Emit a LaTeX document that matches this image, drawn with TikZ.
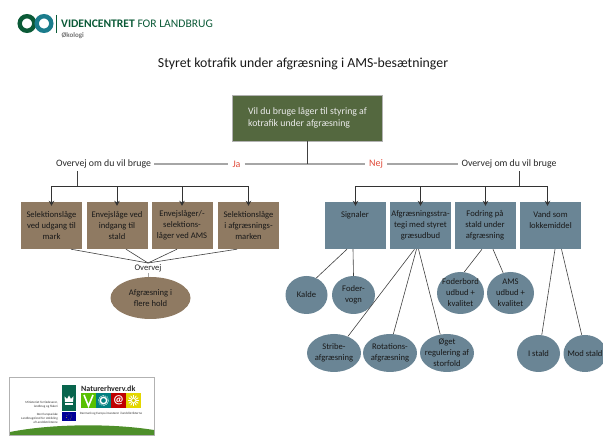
\documentclass[tikz,border=0pt]{standalone}
\usepackage{fontspec}
\setmainfont{Carlito}
\usetikzlibrary{shapes.geometric,arrows.meta}
\definecolor{topgreen}{HTML}{54683F}
\definecolor{brownbox}{HTML}{8F7A62}
\definecolor{bluebox}{HTML}{6A8595}
\definecolor{logogreen}{HTML}{0B5A37}
\definecolor{logoteal}{HTML}{1B7C8C}
\definecolor{redtext}{HTML}{E04B3A}
\definecolor{hillgreen}{HTML}{4E8F2A}
\tikzset{
  choice/.style={rectangle,minimum width=61,minimum height=47,inner sep=0,align=center,font=\fontsize{8.6}{11}\selectfont,text=black!90},
  brown/.style={choice,fill=brownbox},
  blue/.style={choice,fill=bluebox},
  oval/.style={ellipse,inner sep=-8pt,align=center,fill=bluebox,font=\fontsize{8.6}{11}\selectfont,text=black!90},
  label/.style={font=\fontsize{9.8}{11}\selectfont,text=black!85,inner sep=3},
  answer/.style={font=\fontsize{10}{11}\selectfont,text=redtext,inner sep=4},
  barline/.style={draw=black!35,line width=1.2},
  thinline/.style={draw=black!75,line width=.6},
  arrowline/.style={draw=black!80,line width=.8,-{Stealth[length=5pt,width=5.5pt]}},
  tiny/.style={inner sep=0,font=\fontsize{3.2}{4}\selectfont,text=black!80}
}
\begin{document}
\begin{tikzpicture}[x=1pt,y=-1pt]
\useasboundingbox (0,0) rectangle (603,438);
% logo top
\draw[logogreen,line width=4.4] (27,23.5) circle (7.3);
\draw[logoteal,line width=4.4] (44,23.5) circle (7.3);
\draw[logogreen,line width=.5] (56.5,15) -- (56.5,33);
\node[anchor=west,inner sep=0,text=logogreen,font=\fontsize{11.6}{13}\selectfont] (brand) at (61,24) {\textbf{VIDENCENTRET} FOR LANDBRUG};
\node[anchor=west,inner sep=0,text=black!55,font=\fontsize{7}{8}\selectfont\bfseries] (okologi) at (61.5,36) {Økologi};
\node[font=\fontsize{13.8}{15}\selectfont,text=black!90,inner sep=0] (title) at (303,64) {Styret kotrafik under afgræsning i AMS-besætninger};
% question
\node[rectangle,fill=topgreen,draw=black!30,line width=.4,minimum width=150,minimum height=46,inner sep=0,align=left,text=white!92!black,font=\fontsize{9.8}{12.5}\selectfont] (question) at (307.5,118) {Vil du bruge låger til styring af\\kotrafik under afgræsning};
\node[label] (overvejja) at (103.5,164) {Overvej om du vil bruge};
\node[answer] (ja) at (236.5,164) {Ja};
\node[answer] (nej) at (376,164) {Nej};
\node[label] (overvejnej) at (509,164) {Overvej om du vil bruge};
\coordinate (split) at (307.5,164);
\draw[barline] (overvejja) -- (ja);
\draw[barline] (ja) -- (nej);
\draw[barline] (nej) -- (overvejnej);
\draw[thinline] (question) -- (split);
% left side
\node[brown] (udgang) at (51.5,225.5) {Selektionslåge\\ved udgang til\\mark};
\node[brown] (indgang) at (117,225.5) {Envejslåge ved\\indgang til\\stald};
\node[brown] (ams) at (182,225.5) {Envejslåger/-\\selektions-\\låger ved AMS};
\node[brown] (marken) at (248.5,225.5) {Selektionslåge\\i afgræsnings-\\marken};
\coordinate (forkja) at (77.5,186);
\draw[thinline,line width=.8] (overvejja.south -| forkja) -- (forkja);
\foreach \boxname in {udgang,indgang,ams,marken}
  \draw[arrowline] (forkja) -| ([yshift=-4]\boxname.north);
\coordinate (meet) at (148,263);
\node[font=\fontsize{8.6}{10}\selectfont,text=black!85,inner sep=1] (overvej) at (148,268.5) {Overvej};
\node[ellipse,inner sep=-8pt,align=center,fill=brownbox,minimum width=80,minimum height=42,font=\fontsize{8.6}{11}\selectfont,text=black!90] (hold) at (150.5,298) {Afgræsning i\\flere hold};
\draw[thinline] ([xshift=19.5]udgang.south) -- (meet);
\draw[thinline] ([xshift=9]indgang.south) -- (meet);
\draw[thinline] ([xshift=-5]ams.south) -- (meet);
\draw[thinline] ([xshift=-11.5]marken.south) -- (meet);
\draw[barline,line width=.8] (overvej) -- (hold.north -| overvej);
% right side
\node[blue] (signaler) at (355,225.5) {Signaler\\~\\~};
\node[blue] (strategi) at (420.5,225.5) {Afgræsningsstra-\\tegi med styret\\græsudbud};
\node[blue] (fodring) at (485,225.5) {Fodring på\\stald under\\afgræsning};
\node[blue] (vand) at (550.5,225.5) {Vand som\\lokkemiddel\\~};
\coordinate (forknej) at (519,186);
\draw[thinline,line width=.8] (overvejnej.south -| forknej) -- (forknej);
\foreach \boxname/\shift in {signaler/.5,strategi/0,fodring/.5,vand/-3}
  \draw[arrowline] (forknej) -| ([xshift=\shift,yshift=-4]\boxname.north);
\node[oval,minimum width=42,minimum height=38] (kalde) at (306.5,295) {Kalde};
\node[oval,minimum width=43,minimum height=38] (vogn) at (353.5,295) {Foder-\\vogn};
\node[oval,minimum width=47,minimum height=42] (foderbord) at (460.5,293) {Foderbord\\udbud +\\kvalitet};
\node[oval,minimum width=47,minimum height=42] (kvalitet) at (510.5,293) {AMS\\udbud +\\kvalitet};
\node[oval,minimum width=54,minimum height=38] (stribe) at (334,353) {Stribe-\\afgræsning};
\node[oval,minimum width=54,minimum height=38] (rotation) at (390,353) {Rotations-\\afgræsning};
\node[oval,minimum width=54,minimum height=38] (oget) at (447,353) {Øget\\regulering af\\storfold};
\node[oval,minimum width=43,minimum height=37] (istald) at (538.5,353.5) {I stald};
\node[oval,minimum width=43,minimum height=37] (modstald) at (585,353.5) {Mod stald};
\draw[thinline] ([xshift=-8]signaler.south) -- (kalde.60);
\draw[thinline] ([xshift=-2]signaler.south) -- (vogn.north);
\draw[thinline] ([xshift=-6]strategi.south) -- (stribe.50);
\draw[thinline] ([xshift=-4]strategi.south) -- (rotation.80);
\draw[thinline] ([xshift=-2]strategi.south) -- (oget.110);
\draw[thinline] ([xshift=-3]fodring.south) -- (foderbord.80);
\draw[thinline] ([xshift=8]fodring.south) -- (kvalitet.110);
\draw[thinline] ([xshift=4.5]vand.south) -- (istald.80);
\draw[thinline] ([xshift=11]vand.south) -- (modstald.100);
% logo bottom
\draw[black!30,line width=.8] (9.5,377.5) rectangle (154,435);
\fill[hillgreen] (10,432) .. controls (50,424) and (110,423) .. (154,430) -- (154,435) -- (10,435) -- cycle;
\fill[logogreen!70!teal] (62,385) rectangle (76,411);
\fill[white] (65,402) -- (64.5,396.5) -- (67,399) -- (69,395.5) -- (71,399) -- (73.5,396.5) -- (73,402) -- cycle;
\fill[white] (65,403) rectangle (73,405);
\fill[blue!60!black] (62,412.5) rectangle (76,421);
\draw[yellow,line width=.5,dotted] (69,416.8) circle (2.8);
\node[anchor=west,inner sep=0,font=\fontsize{8}{9}\selectfont\bfseries,text=black!85] (naturerhverv) at (81,389) {Naturerhverv.dk};
\fill[green!45!olive!90!yellow] (81,393) rectangle (96,408);
\draw[white,line width=1.6] (84,395) -- (88.5,406) -- (93,395);
\fill[teal] (96,393) rectangle (111,408);
\draw[white,line width=1.4] (103.5,400.5) circle (3.2);
\draw[white,line width=.9,dash pattern=on 1pt off 1.2pt] (103.5,400.5) circle (5);
\fill[red!75!black] (111,393) rectangle (126,408);
\node[inner sep=0,text=white,font=\fontsize{12}{12}\selectfont\bfseries] (snabela) at (118.5,400) {@};
\fill[yellow!75!olive] (126,393) rectangle (141,408);
\foreach \ang in {0,30,...,330}
  \draw[white,line width=.8] (133.5,400.5) -- +(\ang:5.5);
\fill[yellow!60!olive] (133.5,400.5) circle (1.8);
\node[tiny] (invest) at (111,414) {Danmark og Europa investerer i landdistrikterne};
\node[tiny,anchor=east,align=right] (ministeriet) at (58,405) {Ministeriet for fødevarer,\\landbrug og fiskeri};
\node[tiny,anchor=east,align=right] (fond) at (58,418) {Den Europæiske\\Landbrugsfond for Udvikling\\af Landdistrikterne};
\end{tikzpicture}
\end{document}
